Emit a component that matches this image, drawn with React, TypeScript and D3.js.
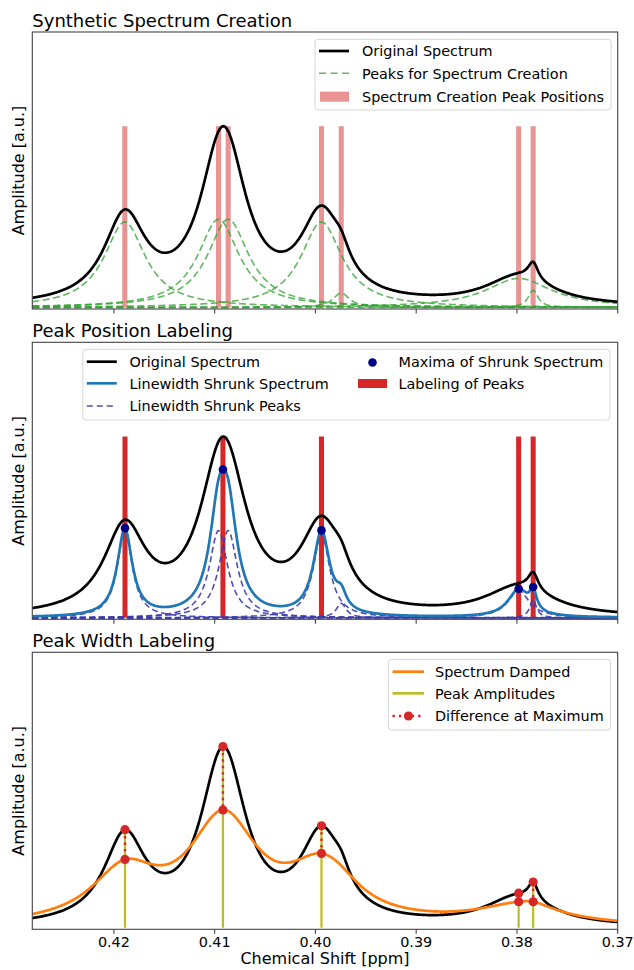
import React from 'react';
import * as d3 from 'd3';

// x axis (ppm, reversed)
const xStart = 0.4281;
const xEnd = 0.37;
const xTicks = [0.42, 0.41, 0.4, 0.39, 0.38, 0.37];
const xTickLabels = ['0.42', '0.41', '0.40', '0.39', '0.38', '0.37'];

// peaks used to build the original spectrum (Lorentzian: position, height, half width)
const peakPositions = [0.41892, 0.40962, 0.40866, 0.3994, 0.39744, 0.37983, 0.37839];
const peakAmplitudes = [0.47, 0.485, 0.485, 0.47, 0.08, 0.16, 0.095];
const peakWidths = [0.0025, 0.0025, 0.0025, 0.0025, 0.001, 0.004, 0.0006];

// linewidth shrunk peaks
const shrunkAmplitudes = [0.48, 0.48, 0.48, 0.46, 0.08, 0.15, 0.1];
const shrunkWidths = [0.0009, 0.0011, 0.0011, 0.001, 0.0006, 0.0013, 0.0004];

// damped peaks
const dampedAmplitudes = [0.28, 0.285, 0.285, 0.29, 0.03, 0.1, 0.027];
const dampedWidths = [0.004, 0.004, 0.004, 0.004, 0.0023, 0.0055, 0.0021];

// labelled peak positions
const labelPositions = [0.4189, 0.40918, 0.3994, 0.37983, 0.37839];

const titles = ['Synthetic Spectrum Creation', 'Peak Position Labeling', 'Peak Width Labeling'];

const FONT = 'DejaVu Sans, sans-serif';
const panelTops = [32, 342.3, 652.3];
const panelH = 277;
const left = 32.3;
const right = 617.7;
const barWidth = 0.0005;

const lorentz = (x: number, a: number, x0: number, w: number) => (a * w * w) / ((x - x0) * (x - x0) + w * w);

const grid = d3.range(0, 901).map((i) => xStart + ((xEnd - xStart) * i) / 900);

function sumAt(x: number, amps: number[], widths: number[]) {
  let s = 0;
  peakPositions.forEach((p, i) => {
    s += lorentz(x, amps[i], p, widths[i]);
  });
  return s;
}

const original = grid.map((x) => ({ x, y: sumAt(x, peakAmplitudes, peakWidths) }));
const shrunk = grid.map((x) => ({ x, y: sumAt(x, shrunkAmplitudes, shrunkWidths) }));
const damped = grid.map((x) => ({ x, y: sumAt(x, dampedAmplitudes, dampedWidths) }));
const singlePeaks = peakPositions.map((p, i) => grid.map((x) => ({ x, y: lorentz(x, peakAmplitudes[i], p, peakWidths[i]) })));
const shrunkPeaks = peakPositions.map((p, i) => grid.map((x) => ({ x, y: lorentz(x, shrunkAmplitudes[i], p, shrunkWidths[i]) })));
const maxOriginal = d3.max(original, (d) => d.y) as number;

const xScale = d3.scaleLinear().domain([xStart, xEnd]).range([left, right]);

function LegendText({ x, y, text }: { x: number; y: number; text: string }) {
  return (
    <text x={x} y={y + 5.2} fontSize={14.4} fontFamily={FONT} fill="#000">
      {text}
    </text>
  );
}

function LegendBox({ x, y, w, h }: { x: number; y: number; w: number; h: number }) {
  return <rect x={x} y={y} width={w} height={h} rx={3} fill="#fff" fillOpacity={0.8} stroke="#d6d6d6" strokeWidth={1} />;
}

export default function App() {
  const yScales = panelTops.map((t) => d3.scaleLinear().domain([-0.008, 1.515]).range([t + panelH, t]));
  const lines = yScales.map((ys) =>
    d3
      .line<{ x: number; y: number }>()
      .x((d) => xScale(d.x))
      .y((d) => ys(d.y))
  );
  const bw = (p: number) => xScale(p + barWidth / 2) - xScale(p - barWidth / 2);

  const [y1, y2, y3] = yScales;
  const [l1, l2, l3] = lines;

  return (
    <svg width={634} height={970} style={{ position: 'absolute', left: 0, top: 0, background: '#fff' }}>
      <defs>
        {panelTops.map((t, i) => (
          <clipPath id={`clip${i}`} key={i}>
            <rect x={left} y={t} width={right - left} height={panelH} />
          </clipPath>
        ))}
      </defs>

      {/* Panel 1 */}
      <g clipPath="url(#clip0)">
        {peakPositions.map((p, i) => (
          <rect key={i} x={xScale(p + barWidth / 2)} y={y1(maxOriginal)} width={Math.abs(bw(p))} height={y1(0) - y1(maxOriginal)} fill="#d62728" opacity={0.5} />
        ))}
        {singlePeaks.map((pk, i) => (
          <path key={i} d={l1(pk) as string} fill="none" stroke="#2ca02c" strokeOpacity={0.75} strokeWidth={1.6} strokeDasharray="7,3.5" />
        ))}
        <path d={l1(original) as string} fill="none" stroke="#000" strokeWidth={2.7} />
      </g>

      {/* Panel 2 */}
      <g clipPath="url(#clip1)">
        {labelPositions.map((p, i) => (
          <rect key={i} x={xScale(p + barWidth / 2)} y={y2(maxOriginal)} width={Math.abs(bw(p))} height={y2(0) - y2(maxOriginal)} fill="#d62728" />
        ))}
        <path d={l2(original) as string} fill="none" stroke="#000" strokeWidth={2.7} />
        {shrunkPeaks.map((pk, i) => (
          <path key={i} d={l2(pk) as string} fill="none" stroke="#3a3ab0" strokeOpacity={0.9} strokeWidth={1.6} strokeDasharray="6,3.5" />
        ))}
        <path d={l2(shrunk) as string} fill="none" stroke="#1f77b4" strokeWidth={2.7} />
        {labelPositions.map((p, i) => (
          <circle key={i} cx={xScale(p)} cy={y2(sumAt(p, shrunkAmplitudes, shrunkWidths))} r={4.3} fill="#00008b" />
        ))}
      </g>

      {/* Panel 3 */}
      <g clipPath="url(#clip2)">
        <path d={l3(original) as string} fill="none" stroke="#000" strokeWidth={2.7} />
        <path d={l3(damped) as string} fill="none" stroke="#ff7f0e" strokeWidth={2.7} />
        {labelPositions.map((p, i) => (
          <line key={i} x1={xScale(p)} x2={xScale(p)} y1={y3(0)} y2={y3(sumAt(p, peakAmplitudes, peakWidths))} stroke="#bcbd22" strokeWidth={2.2} />
        ))}
        {labelPositions.map((p, i) => {
          const top = sumAt(p, peakAmplitudes, peakWidths);
          const bot = sumAt(p, dampedAmplitudes, dampedWidths);
          return (
            <g key={i}>
              <line x1={xScale(p)} x2={xScale(p)} y1={y3(top)} y2={y3(bot)} stroke="#d62728" strokeWidth={2.4} strokeDasharray="2.4,4" />
              <circle cx={xScale(p)} cy={y3(top)} r={4.6} fill="#d62728" />
              <circle cx={xScale(p)} cy={y3(bot)} r={4.6} fill="#d62728" />
            </g>
          );
        })}
      </g>

      {/* frames, ticks, titles, y labels */}
      {panelTops.map((t, i) => (
        <g key={i}>
          <rect x={left} y={t} width={right - left} height={panelH} fill="none" stroke="#444" strokeWidth={1.1} />
          {xTicks.map((tk, j) => (
            <line key={j} x1={xScale(tk)} x2={xScale(tk)} y1={t + panelH} y2={t + panelH + 4.5} stroke="#444" strokeWidth={1.1} />
          ))}
          <text x={left} y={t - 5.5} fontSize={18} fontFamily={FONT} fill="#000">
            {titles[i]}
          </text>
          <text transform={`translate(24, ${t + panelH / 2}) rotate(-90)`} textAnchor="middle" fontSize={16} fontFamily={FONT} fill="#000">
            Amplitude [a.u.]
          </text>
        </g>
      ))}
      {xTicks.map((tk, j) => (
        <text key={j} x={xScale(tk)} y={946.7} textAnchor="middle" fontSize={14.4} fontFamily={FONT} fill="#000">
          {xTickLabels[j]}
        </text>
      ))}
      <text x={(left + right) / 2} y={963.5} textAnchor="middle" fontSize={16} fontFamily={FONT} fill="#000">
        Chemical Shift [ppm]
      </text>

      {/* Legend 1 */}
      <LegendBox x={315} y={39.3} w={296} h={70.7} />
      <line x1={319} x2={349} y1={51} y2={51} stroke="#000" strokeWidth={2.7} />
      <LegendText x={362} y={51} text="Original Spectrum" />
      <line x1={319} x2={349} y1={73.3} y2={73.3} stroke="#2ca02c" strokeOpacity={0.75} strokeWidth={1.6} strokeDasharray="7,4.5" />
      <LegendText x={362} y={73.3} text="Peaks for Spectrum Creation" />
      <rect x={320} y={91.7} width={29} height={10} fill="#d62728" opacity={0.5} />
      <LegendText x={362} y={96.7} text="Spectrum Creation Peak Positions" />

      {/* Legend 2 */}
      <LegendBox x={82.8} y={349.3} w={527} h={70.7} />
      <line x1={86.8} x2={116.8} y1={361.7} y2={361.7} stroke="#000" strokeWidth={2.7} />
      <LegendText x={129.5} y={361.7} text="Original Spectrum" />
      <line x1={86.8} x2={116.8} y1={383.3} y2={383.3} stroke="#1f77b4" strokeWidth={2.7} />
      <LegendText x={129.5} y={383.3} text="Linewidth Shrunk Spectrum" />
      <line x1={86.8} x2={116.8} y1={406} y2={406} stroke="#3a3ab0" strokeOpacity={0.9} strokeWidth={1.6} strokeDasharray="6,4" />
      <LegendText x={129.5} y={406} text="Linewidth Shrunk Peaks" />
      <circle cx={372.5} cy={362.5} r={4.3} fill="#00008b" />
      <LegendText x={398.5} y={361.7} text="Maxima of Shrunk Spectrum" />
      <rect x={358} y={379} width={29} height={9} fill="#d62728" />
      <LegendText x={398.5} y={383.3} text="Labeling of Peaks" />

      {/* Legend 3 */}
      <LegendBox x={388.4} y={659.3} w={222} h={70.7} />
      <line x1={392.5} x2={424} y1={671.7} y2={671.7} stroke="#ff7f0e" strokeWidth={2.7} />
      <LegendText x={435} y={671.7} text="Spectrum Damped" />
      <line x1={392.5} x2={424} y1={693.3} y2={693.3} stroke="#bcbd22" strokeWidth={2.7} />
      <LegendText x={435} y={693.3} text="Peak Amplitudes" />
      <line x1={392.5} x2={424} y1={716} y2={716} stroke="#d62728" strokeWidth={2.4} strokeDasharray="2.4,4" />
      <circle cx={408.5} cy={716} r={4.6} fill="#d62728" />
      <LegendText x={435} y={716} text="Difference at Maximum" />
    </svg>
  );
}
